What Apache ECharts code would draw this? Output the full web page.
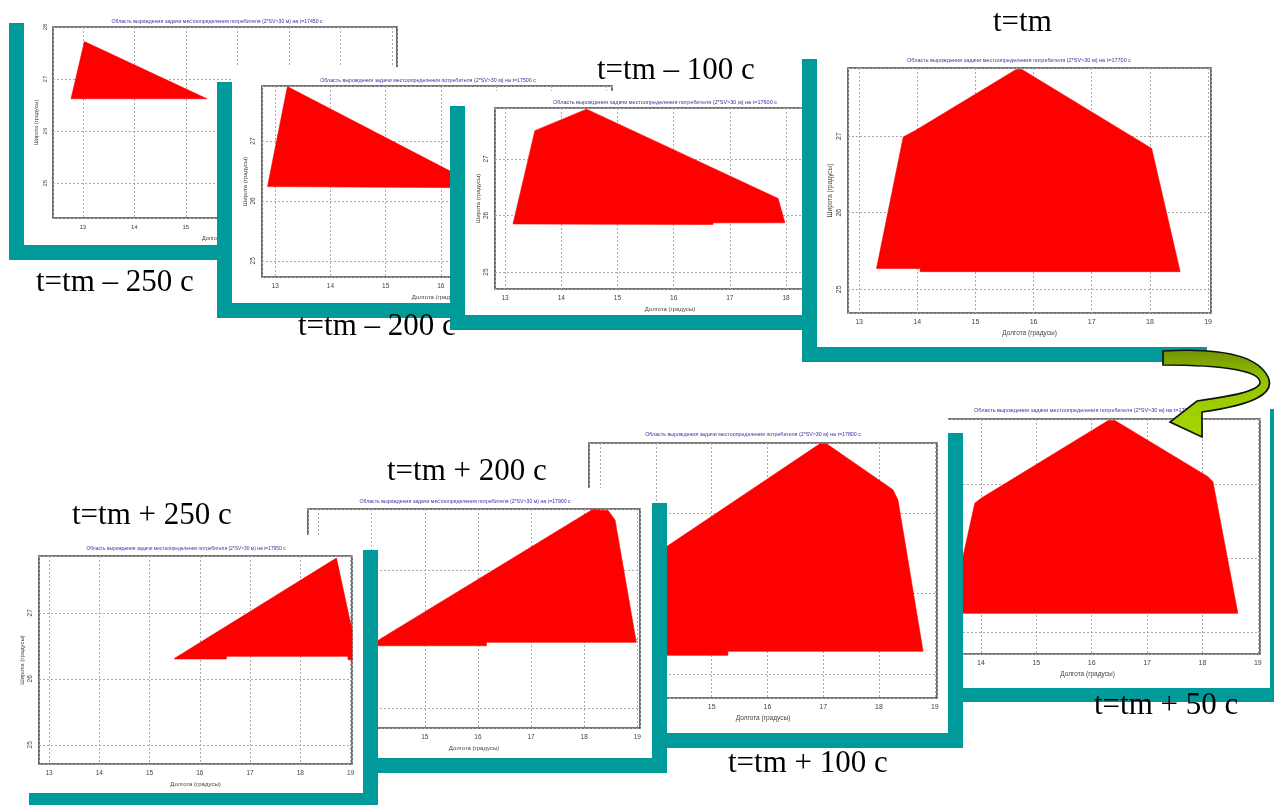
<!DOCTYPE html>
<html><head><meta charset="utf-8">
<script src="https://cdn.jsdelivr.net/npm/echarts@6/dist/echarts.min.js"></script>
<style>html,body{margin:0;padding:0;background:#fff}#c{width:1274px;height:805px}</style>
</head><body><div id="c"></div>
<script>
// ---------------- DATA ----------------
const panelLabels = ['t=tm – 250 c', 't=tm – 200 c', 't=tm – 100 c', 't=tm', 't=tm + 50 c', 't=tm + 100 c', 't=tm + 200 c', 't=tm + 250 c'];
const panelTimes = [17450, 17500, 17600, 17700, 17750, 17800, 17900, 17950];
const titlePrefix = 'Область вырождения задачи местоопределения потребителя (2*SV>30 м) на t=';
const xAxisName = 'Долгота (градусы)';
const yAxisName = 'Широта (градусы)';
const xRanges = [[12.42, 19.1], [12.76, 19.1], [12.82, 19.05], [12.81, 19.05], [12.81, 19.04], [12.8, 19.04], [12.8, 19.05], [12.8, 19.03]];
const yRanges = [[24.33, 28], [24.73, 27.92], [24.7, 27.9], [24.69, 27.89], [24.7, 27.88], [24.7, 27.87], [24.71, 27.88], [24.71, 27.86]];
const regionTm250m = [[12.77, 26.62], [13.03, 27.72], [15.41, 26.62]];
const regionTm200m = [[12.86, 26.24], [13.22, 27.91], [16.75, 26.22]];
const regionTm100m = [[13.14, 25.85], [13.53, 27.50], [14.45, 27.88], [17.86, 26.30], [17.98, 25.87], [16.7, 25.87], [16.7, 25.84]];
const regionTm = [[13.30, 25.27], [13.76, 26.99], [13.96, 27.07], [15.70, 27.87], [15.80, 27.87], [18.03, 26.84], [18.52, 25.23], [14.05, 25.23], [14.05, 25.27]];
const regionTm50p = [[13.45, 25.25], [13.89, 26.74], [14.01, 26.81], [16.30, 27.86], [16.42, 27.86], [18.10, 27.10], [18.19, 27.03], [18.64, 25.25]];
const regionTm100p = [[13.7, 25.23], [14.0, 26.49], [14.1, 26.54], [16.94, 27.86], [17.06, 27.86], [18.25, 27.29], [18.34, 27.16], [18.79, 25.28], [15.29, 25.28], [15.29, 25.23]];
const regionTm200p = [[14.1, 25.97], [18.15, 27.87], [18.45, 27.86], [18.58, 27.72], [18.98, 25.95], [16.16, 25.95], [16.16, 25.90], [14.1, 25.90]];
const regionTm250p = [[15.50, 26.31], [18.72, 27.83], [19.03, 26.74], [19.03, 26.29], [18.95, 26.29], [18.95, 26.34], [16.53, 26.34], [16.53, 26.30], [15.50, 26.30]];
const regions = [regionTm250m, regionTm200m, regionTm100m, regionTm, regionTm50p, regionTm100p, regionTm200p, regionTm250p];

// ---------------- LAYOUT (positions / styles) ----------------
const layout = [
  {plot: [53, 27, 397, 218], white: [24, 8, 412, 245], sh: [-15, 15], title: [217, 22], label: [36, 283], fs: 6, tfs: 5.2},
  {plot: [262, 86, 612, 277], white: [232, 67, 627, 303], sh: [-15, 15], title: [428, 81], label: [298, 327], fs: 6.5, tfs: 5.3},
  {plot: [495, 108, 845, 289], white: [465, 91, 860, 315], sh: [-15, 15], title: [665, 102], label: [597, 71], fs: 6.5, tfs: 5.5},
  {plot: [848, 68, 1211, 313], white: [817, 44, 1222, 347], sh: [-15, 15], title: [1019, 60], label: [993, 23], fs: 7, tfs: 5.5},
  {plot: [915, 419, 1260, 654], white: [900, 395, 1270, 688], sh: [15, 14], title: [1086, 410], label: [1094, 706], fs: 7, tfs: 5.5},
  {plot: [589, 443, 937, 698], white: [575, 418, 948, 733], sh: [15, 15], title: [753, 435], label: [728, 764], fs: 7, tfs: 5.3},
  {plot: [308, 509, 640, 728], white: [293, 488, 652, 758], sh: [15, 15], title: [465, 502], label: [387, 472], fs: 6.5, tfs: 5.2},
  {plot: [39, 556, 352, 764], white: [14, 535, 363, 793], sh: [15, 15], title: [186, 549], label: [72, 516], fs: 6.5, tfs: 4.9}
];
const TEAL = '#009a9a', RED = '#ff0000', TITLE_BLUE = '#3434a8';
const ARROW_PATH = 'M1163,351 C1215,348 1257,354 1268,377 C1276,394 1252,405 1202,412 L1202,437 L1170,422 L1197,401 C1233,396 1258,391 1260,383 C1261,371 1225,365 1163,365 Z';

const grids = [], xAxes = [], yAxes = [], series = [], elements = [];
const isInt = v => Math.abs(v - Math.round(v)) < 1e-6;

regions.forEach((poly, i) => {
  const L = layout[i];
  const base = 10 + i * 10;
  const [pl, pt, pr, pb] = L.plot;
  const [wl, wt, wr, wb] = L.white;
  elements.push({type: 'rect', silent: true, z: base,
    shape: {x: wl + L.sh[0], y: wt + L.sh[1], width: wr - wl, height: wb - wt}, style: {fill: TEAL}});
  elements.push({type: 'rect', silent: true, z: base + 1,
    shape: {x: wl, y: wt, width: wr - wl, height: wb - wt}, style: {fill: '#ffffff'}});
  elements.push({type: 'text', silent: true, z: base + 5, x: L.title[0], y: L.title[1],
    style: {text: titlePrefix + panelTimes[i] + ' с', font: L.tfs + 'px "Liberation Sans"', fill: TITLE_BLUE, align: 'center', verticalAlign: 'middle'}});
  elements.push({type: 'text', silent: true, z: base + 6, x: L.label[0], y: L.label[1],
    style: {text: panelLabels[i], font: '31px "Liberation Serif"', fill: '#000', align: 'left', verticalAlign: 'middle'}});

  grids.push({left: pl, top: pt, width: pr - pl, height: pb - pt, show: true, z: base + 2,
    backgroundColor: 'transparent', borderColor: '#4a4a4a', borderWidth: 1.6, containLabel: false});
  const common = {
    gridIndex: i, type: 'value', z: base + 3, minInterval: 1, maxInterval: 1,
    axisLine: {show: false}, axisTick: {show: false},
    splitLine: {show: true, lineStyle: {color: '#aaaaaa', type: [2, 2], width: 1}},
    nameTextStyle: {fontSize: L.fs - 0.5, color: '#444', fontFamily: 'Liberation Sans'}
  };
  xAxes.push(Object.assign({}, common, {
    min: xRanges[i][0], max: xRanges[i][1], name: xAxisName, nameLocation: 'middle', nameGap: 17,
    axisLabel: {fontSize: L.fs, color: '#444', margin: 6, fontFamily: 'Liberation Sans', formatter: v => isInt(v) ? String(Math.round(v)) : ''}
  }));
  yAxes.push(Object.assign({}, common, {
    min: yRanges[i][0], max: yRanges[i][1], name: yAxisName, nameLocation: 'middle', nameGap: 14,
    axisLabel: {fontSize: L.fs, color: '#444', margin: 5, rotate: 90, fontFamily: 'Liberation Sans', formatter: v => isInt(v) ? String(Math.round(v)) : ''}
  }));
  series.push({
    type: 'custom', xAxisIndex: i, yAxisIndex: i, z: base + 4, silent: true, animation: false,
    data: poly,
    renderItem: (params, api) => {
      if (params.dataIndex !== 0) return null;
      const pts = poly.map(p => api.coord(p));
      return {type: 'polygon', shape: {points: pts}, style: {fill: RED, stroke: RED, lineWidth: 0.6}};
    }
  });
});

// curved green arrow (decoration) from t=tm to t=tm + 50 c
series.push({
  type: 'custom', coordinateSystem: 'none', z: 400, silent: true, animation: false,
  data: [0],
  renderItem: () => ({
    type: 'path',
    shape: {pathData: ARROW_PATH},
    style: {
      fill: new echarts.graphic.LinearGradient(0, 0, 0, 1, [{offset: 0, color: '#6f9200'}, {offset: 0.35, color: '#94c400'}, {offset: 1, color: '#a8d800'}]),
      stroke: '#111', lineWidth: 1.7
    }
  })
});

const chart = echarts.init(document.getElementById('c'), null, {renderer: 'canvas'});
chart.setOption({
  animation: false,
  backgroundColor: '#ffffff',
  grid: grids, xAxis: xAxes, yAxis: yAxes, series: series,
  graphic: {elements: elements}
});
</script></body></html>
